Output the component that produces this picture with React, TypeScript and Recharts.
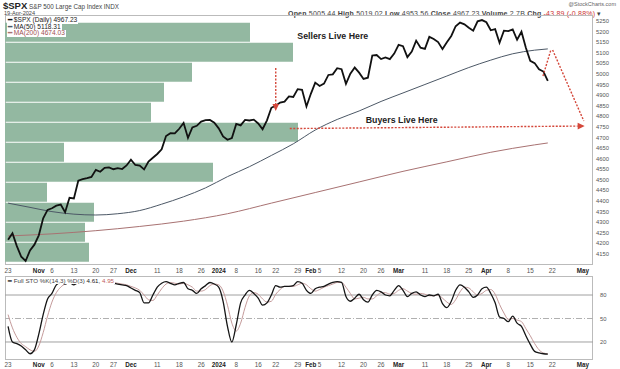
import React from "react";
import {
  Bar,
  BarChart,
  ComposedChart,
  Line,
  ReferenceDot,
  ReferenceLine,
  XAxis,
  YAxis,
} from "recharts";

const FONT = "'Liberation Sans', Arial, sans-serif";

// daily closes, Oct 23 2023 -> Apr 19 2024 (one per session)
const closes = [
  4217, 4248, 4187, 4137, 4117, 4167, 4194, 4238, 4318, 4358,
  4366, 4378, 4383, 4347, 4415, 4412, 4496, 4503, 4508, 4514,
  4547, 4538, 4557, 4559, 4550, 4555, 4551, 4568, 4595, 4570,
  4567, 4549, 4586, 4604, 4622, 4644, 4707, 4720, 4719, 4741,
  4768, 4698, 4747, 4755, 4775, 4782, 4783, 4770, 4743, 4705,
  4689, 4697, 4764, 4757, 4783, 4780, 4784, 4766, 4739, 4781,
  4840, 4850, 4865, 4869, 4894, 4891, 4928, 4925, 4846, 4906,
  4959, 4943, 4954, 4995, 4998, 5027, 5022, 4953, 5001, 5030,
  5006, 4976, 4982, 5087, 5089, 5070, 5078, 5070, 5096, 5137,
  5131, 5079, 5105, 5157, 5124, 5118, 5175, 5165, 5150, 5117,
  5149, 5179, 5225, 5242, 5234, 5218, 5204, 5248, 5254, 5244,
  5206, 5211, 5147, 5204, 5202, 5210, 5161, 5199, 5123, 5062,
  5051, 5022, 5011, 4967,
];

const ma50Days = [0, 5, 10, 15, 20, 25, 30, 35, 40, 45, 50, 55, 60, 65, 70, 75, 80, 85, 90, 95, 100, 105, 110, 115, 120, 123];
const ma50Values = [4390, 4370, 4350, 4338, 4334, 4340, 4355, 4385, 4420, 4462, 4515, 4562, 4615, 4670, 4735, 4785, 4825, 4870, 4910, 4950, 4990, 5030, 5065, 5095, 5112, 5118];

const ma200Days = [0, 10, 20, 30, 40, 50, 60, 70, 80, 90, 100, 110, 120, 123];
const ma200Values = [4235, 4245, 4260, 4280, 4305, 4340, 4390, 4440, 4490, 4540, 4585, 4630, 4665, 4674];

// Full STO %K(14,3) and %D(3)
const stoK = [
  40, 20, 18, 15, 10, 5, 10, 30, 55, 75,
  82, 93, 96, 94, 96, 93, 96, 97, 98, 98,
  98, 97, 97, 96, 95, 94, 93, 92, 89, 86,
  83, 70, 70, 80, 90, 95, 97, 95, 93, 95,
  96, 88, 86, 82, 88, 92, 96, 94, 90, 72,
  40, 20, 42, 70, 80, 86, 82, 76, 67, 70,
  80, 92, 90, 91, 91, 92, 97, 95, 86, 82,
  88, 90, 91, 94, 96, 97, 96, 78, 72, 76,
  81, 74, 71, 80, 86, 84, 80, 79, 86, 92,
  86, 78, 82, 84, 80, 78, 80, 79, 81, 69,
  64, 72, 86, 93, 90, 84, 77, 80, 88, 90,
  82, 70, 52, 50, 46, 53, 44, 40, 28, 17,
  8, 6, 5, 4.61,
];
const stoD = [
  55, 38, 26, 18, 14, 10, 8, 15, 32, 53,
  71, 83, 90, 94, 95, 94, 95, 95, 97, 98,
  98, 98, 97, 97, 96, 95, 94, 93, 91, 89,
  86, 80, 74, 73, 80, 88, 94, 96, 95, 94,
  95, 93, 90, 85, 85, 87, 92, 94, 93, 85,
  67, 44, 34, 44, 64, 79, 83, 81, 75, 71,
  72, 81, 87, 91, 91, 91, 93, 95, 93, 88,
  85, 87, 90, 92, 94, 96, 96, 90, 82, 75,
  76, 77, 75, 75, 79, 83, 83, 81, 82, 86,
  88, 85, 82, 81, 82, 81, 79, 79, 80, 76,
  71, 68, 74, 84, 90, 89, 84, 80, 82, 86,
  87, 81, 68, 57, 49, 50, 48, 46, 37, 28,
  18, 10, 6, 4.95,
];

// volume by price, top bin first (relative volume)
const vbpBins = ["5150-5245", "5056-5150", "4962-5056", "4867-4962", "4773-4867", "4678-4773", "4584-4678", "4490-4584", "4395-4490", "4301-4395", "4206-4301", "4112-4206"];
const vbpVolume = [245, 288, 187, 159, 146, 293, 59, 208, 42, 89, 80, 84];

const priceTicks = [4150, 4200, 4250, 4300, 4350, 4400, 4450, 4500, 4550, 4600, 4650, 4700, 4750, 4800, 4850, 4900, 4950, 5000, 5050, 5100, 5150, 5200, 5250];
const stoTicks = [20, 50, 80];

const dateTickDays = [0, 7, 10, 15, 20, 24, 28, 34, 39, 44, 48, 52, 57, 61, 66, 69, 71, 76, 81, 85, 89, 95, 100, 105, 109, 114, 119, 124, 131];
const dateTickLabels = ["23", "Nov", "6", "13", "20", "27", "Dec", "11", "18", "26", "2024", "8", "16", "22", "29", "Feb", "5", "12", "20", "26", "Mar", "11", "18", "25", "Apr", "8", "15", "22", "May"];
const boldLabels = ["Nov", "Dec", "2024", "Feb", "Mar", "Apr", "May"];

const rows = closes.map((close, i) => ({
  i,
  close,
  ma50: ma50Days.includes(i) ? ma50Values[ma50Days.indexOf(i)] : null,
  ma200: ma200Days.includes(i) ? ma200Values[ma200Days.indexOf(i)] : null,
  k: stoK[i],
  d: stoD[i],
}));
const vbpRows = vbpBins.map((bin, j) => ({ bin, volume: vbpVolume[j] }));

const X_DOMAIN = [-0.7, 133.3];
const RED = "#d4473a";

const DateTick = ({ x, y, payload }: any) => {
  const label = dateTickLabels[dateTickDays.indexOf(payload.value)];
  return (
    <text x={x} y={y + 5} textAnchor="middle" fontSize={6.3} fontFamily={FONT}
      fill={boldLabels.includes(label) ? "#222" : "#555"}
      fontWeight={boldLabels.includes(label) ? 700 : 400}>
      {label}
    </text>
  );
};

const arrow = (head: boolean) => (p: any) => {
  const { x1, y1, x2, y2 } = p;
  const a = Math.atan2(y2 - y1, x2 - x1);
  const len = 7, half = 3.3;
  const bx = x2 - len * Math.cos(a), by = y2 - len * Math.sin(a);
  const pts = `${x2},${y2} ${bx - half * Math.sin(a)},${by + half * Math.cos(a)} ${bx + half * Math.sin(a)},${by - half * Math.cos(a)}`;
  return (
    <g>
      <line x1={x1} y1={y1} x2={head ? bx : x2} y2={head ? by : y2} stroke={RED} strokeWidth={1.4} strokeDasharray="2 1.5" />
      {head && <polygon points={pts} fill={RED} />}
    </g>
  );
};

const note = (text: string) => (p: any) => (
  <text x={p.cx} y={p.cy + 3} textAnchor="middle" fontSize={8.8} fontWeight={700} fontFamily={FONT} fill="#222">
    {text}
  </text>
);

const legendRow = (top: number, color: string, text: string, textColor = "#222") => (
  <div style={{ position: "absolute", left: 7, top, fontSize: 6.6, lineHeight: "6.5px", background: "#fff", color: textColor, padding: "0 1px", whiteSpace: "nowrap" }}>
    <span style={{ color, fontWeight: 700 }}>━</span> {text}
  </div>
);

export default function App() {
  return (
    <div style={{ position: "absolute", left: 0, top: 0, width: 620, height: 369, background: "#fff", fontFamily: FONT, overflow: "hidden" }}>
      {/* header */}
      <div style={{ position: "absolute", left: 3, top: 0, lineHeight: "8px", whiteSpace: "nowrap", color: "#222" }}>
        <b style={{ fontSize: 9.5 }}>$SPX</b>
        <span style={{ fontSize: 6.3, color: "#444" }}> S&amp;P 500 Large Cap Index INDX</span>
      </div>
      <div style={{ position: "absolute", left: 4, top: 10.5, fontSize: 5.6, lineHeight: "5px", color: "#444" }}>19-Apr-2024</div>
      <div style={{ position: "absolute", right: 4, top: 1, fontSize: 5.5, lineHeight: "6px", color: "#666" }}>@StockCharts.com</div>
      <div style={{ position: "absolute", left: 288, top: 9.5, fontSize: 7, lineHeight: "7px", letterSpacing: 0.2, color: "#444", whiteSpace: "nowrap" }}>
        <b>Open</b> 5005.44 <b>High</b> 5019.02 <b>Low</b> 4953.56 <b>Close</b> 4967.23 <b>Volume</b> 2.7B <b>Chg</b> <span style={{ color: "#c33" }}>-43.89 (-0.88%)</span> ▾
      </div>

      {/* panel frames */}
      <div style={{ position: "absolute", left: 5, top: 15, width: 588, height: 250, border: "1px solid #bbb", boxSizing: "border-box" }} />
      <div style={{ position: "absolute", left: 5, top: 276, width: 588, height: 84, border: "1px solid #bbb", boxSizing: "border-box" }} />

      {/* volume by price, behind the price panel */}
      <div style={{ position: "absolute", left: 0, top: 0 }}>
        <BarChart width={620} height={280} data={vbpRows} layout="vertical" barCategoryGap={0.7}
          margin={{ top: 22, right: 27, left: 5, bottom: 18 }}>
          <XAxis type="number" domain={[0, 588]} hide />
          <YAxis type="category" dataKey="bin" hide />
          <Bar dataKey="volume" fill="#93b8a1" isAnimationActive={false} />
        </BarChart>
      </div>

      {/* price panel */}
      <div style={{ position: "absolute", left: 0, top: 0 }}>
        <ComposedChart width={620} height={280} data={rows} margin={{ top: 15, right: 0, left: 5, bottom: 3 }}>
          <XAxis dataKey="i" type="number" domain={X_DOMAIN} allowDataOverflow ticks={dateTickDays}
            tick={<DateTick />} tickLine={false} axisLine={false} tickSize={0} tickMargin={2.5} height={12} interval={0} />
          <YAxis orientation="right" type="number" domain={[4098, 5278]} allowDataOverflow ticks={priceTicks}
            width={27} tickLine={false} axisLine={false} tickSize={0} tickMargin={3} interval={0}
            tick={{ fontSize: 5.8, fill: "#555", fontFamily: FONT, textAnchor: "start" }} />
          <Line dataKey="ma200" type="monotone" stroke="#a87272" strokeWidth={1} dot={false} connectNulls isAnimationActive={false} />
          <Line dataKey="ma50" type="monotone" stroke="#4c5866" strokeWidth={1} dot={false} connectNulls isAnimationActive={false} />
          <Line dataKey="close" type="linear" stroke="#111" strokeWidth={1.8} dot={false} isAnimationActive={false} />
          <ReferenceLine segment={[{ x: 61, y: 5028 }, { x: 61, y: 4825 }]} ifOverflow="visible" shape={arrow(true)} />
          <ReferenceLine segment={[{ x: 64.2, y: 4742 }, { x: 131.4, y: 4754 }]} ifOverflow="visible" shape={arrow(true)} />
          <ReferenceLine segment={[{ x: 121.9, y: 4990 }, { x: 123.7, y: 5113 }]} ifOverflow="visible" shape={arrow(false)} />
          <ReferenceLine segment={[{ x: 124.1, y: 5113 }, { x: 131.2, y: 4778 }]} ifOverflow="visible" shape={arrow(false)} />
          <ReferenceDot x={74} y={5179} r={0} ifOverflow="visible" shape={note("Sellers Live Here")} />
          <ReferenceDot x={89.7} y={4783} r={0} ifOverflow="visible" shape={note("Buyers Live Here")} />
        </ComposedChart>
      </div>

      {legendRow(17, "#111", "$SPX (Daily) 4967.23")}
      {legendRow(23.5, "#4c5866", "MA(50) 5118.31")}
      {legendRow(30, "#a87272", "MA(200) 4674.03", "#a05050")}

      {/* full stochastics panel */}
      <div style={{ position: "absolute", left: 0, top: 266 }}>
        <ComposedChart width={620} height={103} data={rows} margin={{ top: 11, right: 0, left: 5, bottom: 0 }}>
          <XAxis dataKey="i" type="number" domain={X_DOMAIN} allowDataOverflow ticks={dateTickDays}
            tick={<DateTick />} tickLine={false} axisLine={false} tickSize={0} tickMargin={2} height={9} interval={0} />
          <YAxis orientation="right" type="number" domain={[-3, 103]} allowDataOverflow ticks={stoTicks}
            width={27} tickLine={false} axisLine={false} tickSize={0} tickMargin={7} interval={0}
            tick={{ fontSize: 5.8, fill: "#555", fontFamily: FONT, textAnchor: "start" }} />
          <ReferenceLine y={80} stroke="#a0a0a0" strokeWidth={1} />
          <ReferenceLine y={50} stroke="#b0b0b0" strokeWidth={1} strokeDasharray="6 2 1 2" />
          <ReferenceLine y={20} stroke="#a0a0a0" strokeWidth={1} />
          <Line dataKey="d" type="monotone" stroke="#c49a9a" strokeWidth={1} dot={false} isAnimationActive={false} />
          <Line dataKey="k" type="monotone" stroke="#151515" strokeWidth={1.3} dot={false} isAnimationActive={false} />
        </ComposedChart>
      </div>
      <div style={{ position: "absolute", left: 7, top: 276.5, fontSize: 6.2, lineHeight: "7px", color: "#444", background: "#fff", whiteSpace: "nowrap", padding: "0 1px" }}>
        <span style={{ color: "#111", fontWeight: 700 }}>━</span> Full STO %K(14,3) %D(3) <span style={{ color: "#222" }}>4.61,</span> <span style={{ color: "#c06060" }}>4.95</span>
      </div>
    </div>
  );
}
